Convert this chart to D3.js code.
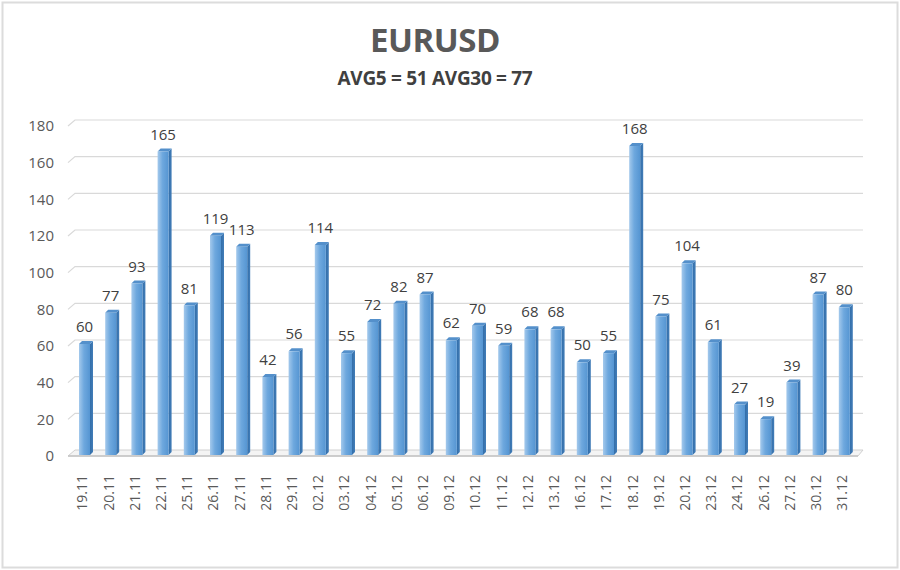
<!DOCTYPE html>
<html><head><meta charset="utf-8">
<script src="https://cdn.jsdelivr.net/npm/d3@7"></script>
<style>body{margin:0;background:#fff}svg{display:block}</style>
</head><body><svg id="c" width="900" height="570"></svg>
<script>
const categories = ["19.11","20.11","21.11","22.11","25.11","26.11","27.11","28.11","29.11","02.12","03.12","04.12","05.12","06.12","09.12","10.12","11.12","12.12","13.12","16.12","17.12","18.12","19.12","20.12","23.12","24.12","26.12","27.12","30.12","31.12"];
const values = [60,77,93,165,81,119,113,42,56,114,55,72,82,87,62,70,59,68,68,50,55,168,75,104,61,27,19,39,87,80];
const yTicks = [0,20,40,60,80,100,120,140,160,180];
const title = "EURUSD";
const subtitle = "AVG5 = 51 AVG30 = 77";

const svg = d3.select("#c");
const font = "'Open Sans', 'DejaVu Sans', sans-serif";

// frame
svg.append("rect").attr("x",2.5).attr("y",2.5).attr("width",895).attr("height",565)
  .attr("fill","#fff").attr("stroke","#dcdcdc").attr("stroke-width",2);

const defs = svg.append("defs");
const g1 = defs.append("linearGradient").attr("id","front").attr("x1","0").attr("x2","1").attr("y1","0").attr("y2","0");
g1.append("stop").attr("offset","0%").attr("stop-color","#a4c9ec");
g1.append("stop").attr("offset","45%").attr("stop-color","#6ea8de");
g1.append("stop").attr("offset","100%").attr("stop-color","#5595d2");
const g2 = defs.append("linearGradient").attr("id","side").attr("x1","0").attr("x2","1");
g2.append("stop").attr("offset","0%").attr("stop-color","#336ea9");
g2.append("stop").attr("offset","100%").attr("stop-color","#427db8");

const x = d3.scaleBand().domain(categories).range([71.4, 857.4]).paddingInner(0.58).paddingOuter(0.29);
const y = d3.scaleLinear().domain([0,180]).range([456,126]);
const dx = 7, dy = 6;

// gridlines (back wall with left slant)
const gridG = svg.append("g");
yTicks.forEach(t => {
  if (t === 0) return;
  const yy = y(t);
  gridG.append("polyline")
    .attr("points", `68,${yy} ${68+dx},${yy-dy} 863,${yy-dy}`)
    .attr("fill","none").attr("stroke","#d9d9d9").attr("stroke-width",1.2);
});
// floor
const y0 = y(0);
gridG.append("polygon")
  .attr("points", `68,${y0} ${68+dx},${y0-dy} 863,${y0-dy} ${863-dx+2},${y0}`)
  .attr("fill","#f4f4f4").attr("stroke","#d0d0d0").attr("stroke-width",1);
gridG.append("line").attr("x1",68).attr("x2",858).attr("y1",y0).attr("y2",y0)
  .attr("stroke","#c4c4c4").attr("stroke-width",1.5);

// y axis labels
const yAxis = d3.axisLeft(y).tickValues(yTicks).tickSize(0).tickPadding(0);
const ya = svg.append("g").attr("transform","translate(54,0)").call(yAxis);
ya.select(".domain").remove();
ya.selectAll("text").attr("font-family",font).attr("font-size",15).attr("fill","#595959");

// x axis labels
const xAxis = d3.axisBottom(x).tickSize(0).tickPadding(0);
const xa = svg.append("g").attr("transform","translate(-2,475)").call(xAxis);
xa.select(".domain").remove();
xa.selectAll("text")
  .attr("font-family",font).attr("font-size",14).attr("fill","#595959")
  .attr("text-anchor","end").attr("dy","0.35em")
  .attr("transform","rotate(-90)").attr("x",0).attr("y",0);

// bars
const bw = x.bandwidth();
const sd = 3; // depth of bar
const bars = svg.append("g").selectAll("g").data(values).join("g");
bars.each(function(v,i){
  const g = d3.select(this);
  const bx = x(categories[i]);
  const top = y(v) - 2;
  const bot = y(0) - 1;
  g.append("polygon")
    .attr("points", `${bx+bw},${top} ${bx+bw+sd},${top-sd} ${bx+bw+sd},${bot-sd} ${bx+bw},${bot}`)
    .attr("fill","url(#side)");
  g.append("polygon")
    .attr("points", `${bx},${top} ${bx+sd},${top-sd} ${bx+bw+sd},${top-sd} ${bx+bw},${top}`)
    .attr("fill","#5490cb");
  g.append("rect").attr("x",bx).attr("y",top).attr("width",bw).attr("height",bot-top)
    .attr("fill","url(#front)");
  g.append("text").attr("x",bx+bw/2).attr("y",top-12)
    .attr("text-anchor","middle").attr("font-family",font).attr("font-size",15)
    .attr("fill","#404040").text(v);
});

// titles
svg.append("text").attr("x",435).attr("y",52).attr("text-anchor","middle")
  .attr("font-family",font).attr("font-weight","bold").attr("font-size",33)
  .attr("fill","#595959").attr("letter-spacing","-0.5").text(title);
svg.append("text").attr("x",435).attr("y",85).attr("text-anchor","middle")
  .attr("font-family",font).attr("font-weight","bold").attr("font-size",19)
  .attr("fill","#404040").attr("letter-spacing","-0.3").text(subtitle);
</script></body></html>
